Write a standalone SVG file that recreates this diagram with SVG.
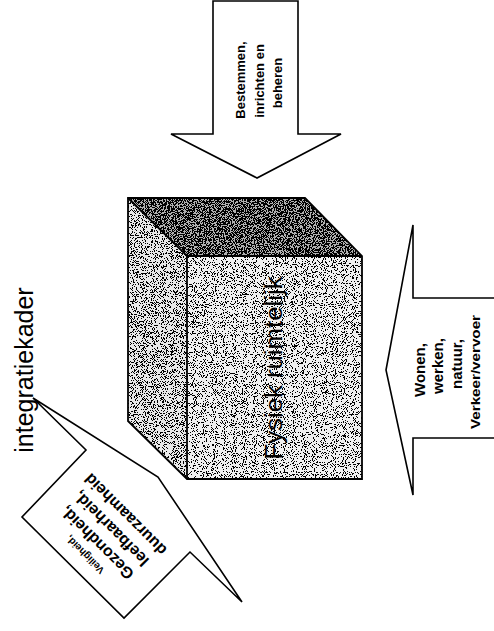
<svg xmlns="http://www.w3.org/2000/svg" width="494" height="631" viewBox="0 0 494 631">
<style>
.shape{fill:#fff;stroke:#000;stroke-width:1.6;stroke-linejoin:miter}
.edge{fill:none;stroke:#000;stroke-width:1.8;stroke-linejoin:miter}
.b{font-family:"Liberation Sans",Arial,sans-serif;font-weight:bold;fill:#000;text-anchor:middle}
.r{font-family:"Liberation Sans",Arial,sans-serif;fill:#000;text-anchor:middle}
filter{color-interpolation-filters:sRGB}
</style>
<defs>
<filter id="grainFront" x="0" y="0" width="1" height="1">
<feTurbulence type="fractalNoise" baseFrequency="1.1" numOctaves="1" seed="3" result="n"/>
<feColorMatrix in="n" type="matrix" values="0 0 0 0 0  0 0 0 0 0  0 0 0 0 0  1 0 0 0 0" result="a"/>
<feComponentTransfer in="a" result="d"><feFuncA type="discrete" tableValues="0 0 0 0 0 0 0 0 0 0 0 0 0 0 0 0 0 0 0 0 0 0 0 0 0 0 0 0 0 1 1 1 1 1 1 1 1 1 1 1 1 1 1 1 1 1 1 1 1 1"/></feComponentTransfer>
<feComposite in="d" in2="SourceGraphic" operator="in" result="c"/>
<feMerge><feMergeNode in="SourceGraphic"/><feMergeNode in="c"/></feMerge>
</filter>
<filter id="grainLeft" x="0" y="0" width="1" height="1">
<feTurbulence type="fractalNoise" baseFrequency="1.1" numOctaves="1" seed="7" result="n"/>
<feColorMatrix in="n" type="matrix" values="0 0 0 0 0  0 0 0 0 0  0 0 0 0 0  1 0 0 0 0" result="a"/>
<feComponentTransfer in="a" result="d"><feFuncA type="discrete" tableValues="0 0 0 0 0 0 0 0 0 0 0 0 0 0 0 0 0 0 0 0 0 0 0 0 0 0 0 0 1 1 1 1 1 1 1 1 1 1 1 1 1 1 1 1 1 1 1 1 1 1"/></feComponentTransfer>
<feComposite in="d" in2="SourceGraphic" operator="in" result="c"/>
<feMerge><feMergeNode in="SourceGraphic"/><feMergeNode in="c"/></feMerge>
</filter>
<filter id="grainTop" x="0" y="0" width="1" height="1">
<feTurbulence type="fractalNoise" baseFrequency="1.1" numOctaves="1" seed="11" result="n"/>
<feColorMatrix in="n" type="matrix" values="0 0 0 0 0  0 0 0 0 0  0 0 0 0 0  1 0 0 0 0" result="a"/>
<feComponentTransfer in="a" result="d"><feFuncA type="discrete" tableValues="0 0 0 0 0 0 0 0 0 0 0 0 0 0 0 0 0 0 0 0 0 0 0 0 1 1 1 1 1 1 1 1 1 1 1 1 1 1 1 1 1 1 1 1 1 1 1 1 1 1"/></feComponentTransfer>
<feComposite in="d" in2="SourceGraphic" operator="in" result="c"/>
<feMerge><feMergeNode in="SourceGraphic"/><feMergeNode in="c"/></feMerge>
</filter>
</defs>

<g id="cube">
<polygon points="128,198 305,198 362,256 187,256" fill="#b0b0b0" filter="url(#grainTop)"/>
<polygon points="128,198 187,256 187,479 128,421" fill="#e8e8e8" filter="url(#grainLeft)"/>
<rect x="187" y="256" width="175" height="223" fill="#f0f0f0" filter="url(#grainFront)"/>
<polygon class="edge" points="128,198 305,198 362,256 362,479 187,479 128,421"/>
<polyline class="edge" points="128,198 187,256 362,256"/>
<line class="edge" x1="187" y1="256" x2="187" y2="479"/>
<text class="r" font-size="23" transform="translate(282,368) rotate(-90)" textLength="183" lengthAdjust="spacingAndGlyphs">Fysiek ruimtelijk</text>
</g>

<g id="arrow-top">
<polygon class="shape" points="213,1 298,1 298,134 341,134 257,178 171,134 213,134"/>
<text class="b" font-size="13" transform="translate(245,80) rotate(-90)">Bestemmen,</text>
<text class="b" font-size="13" transform="translate(264,81) rotate(-90)">inrichten en</text>
<text class="b" font-size="13" transform="translate(282,83) rotate(-90)">beheren</text>
</g>

<g id="arrow-right">
<polygon class="shape" points="386,370 413,225 413,298 500,298 500,438 413,438 413,495"/>
<text class="b" font-size="15" transform="translate(425,370) rotate(-90)">Wonen,</text>
<text class="b" font-size="15" transform="translate(443,366) rotate(-90)">werken,</text>
<text class="b" font-size="15" transform="translate(462,364) rotate(-90)">natuur,</text>
<text class="b" font-size="12" transform="translate(480,372) rotate(-90)" textLength="114" lengthAdjust="spacingAndGlyphs">Verkeer/vervoer</text>
</g>

<g id="integratiekader">
<text class="r" font-size="25" transform="translate(33,370) rotate(-90)">integratiekader</text>
</g>

<g id="callout">
<polygon class="shape" points="33,398 86,450 22,517 124,618 190,552 242,602 158,477"/>
<g transform="translate(106,534) rotate(225)">
<text class="b" font-size="10" x="0" y="-26">Veiligheid,</text>
<text class="b" font-size="16" x="0" y="-7">Gezondheid,</text>
<text class="b" font-size="16" x="0" y="13">leefbaarheid,</text>
<text class="b" font-size="16" x="0" y="33">duurzaamheid</text>
</g>
</g>
</svg>
